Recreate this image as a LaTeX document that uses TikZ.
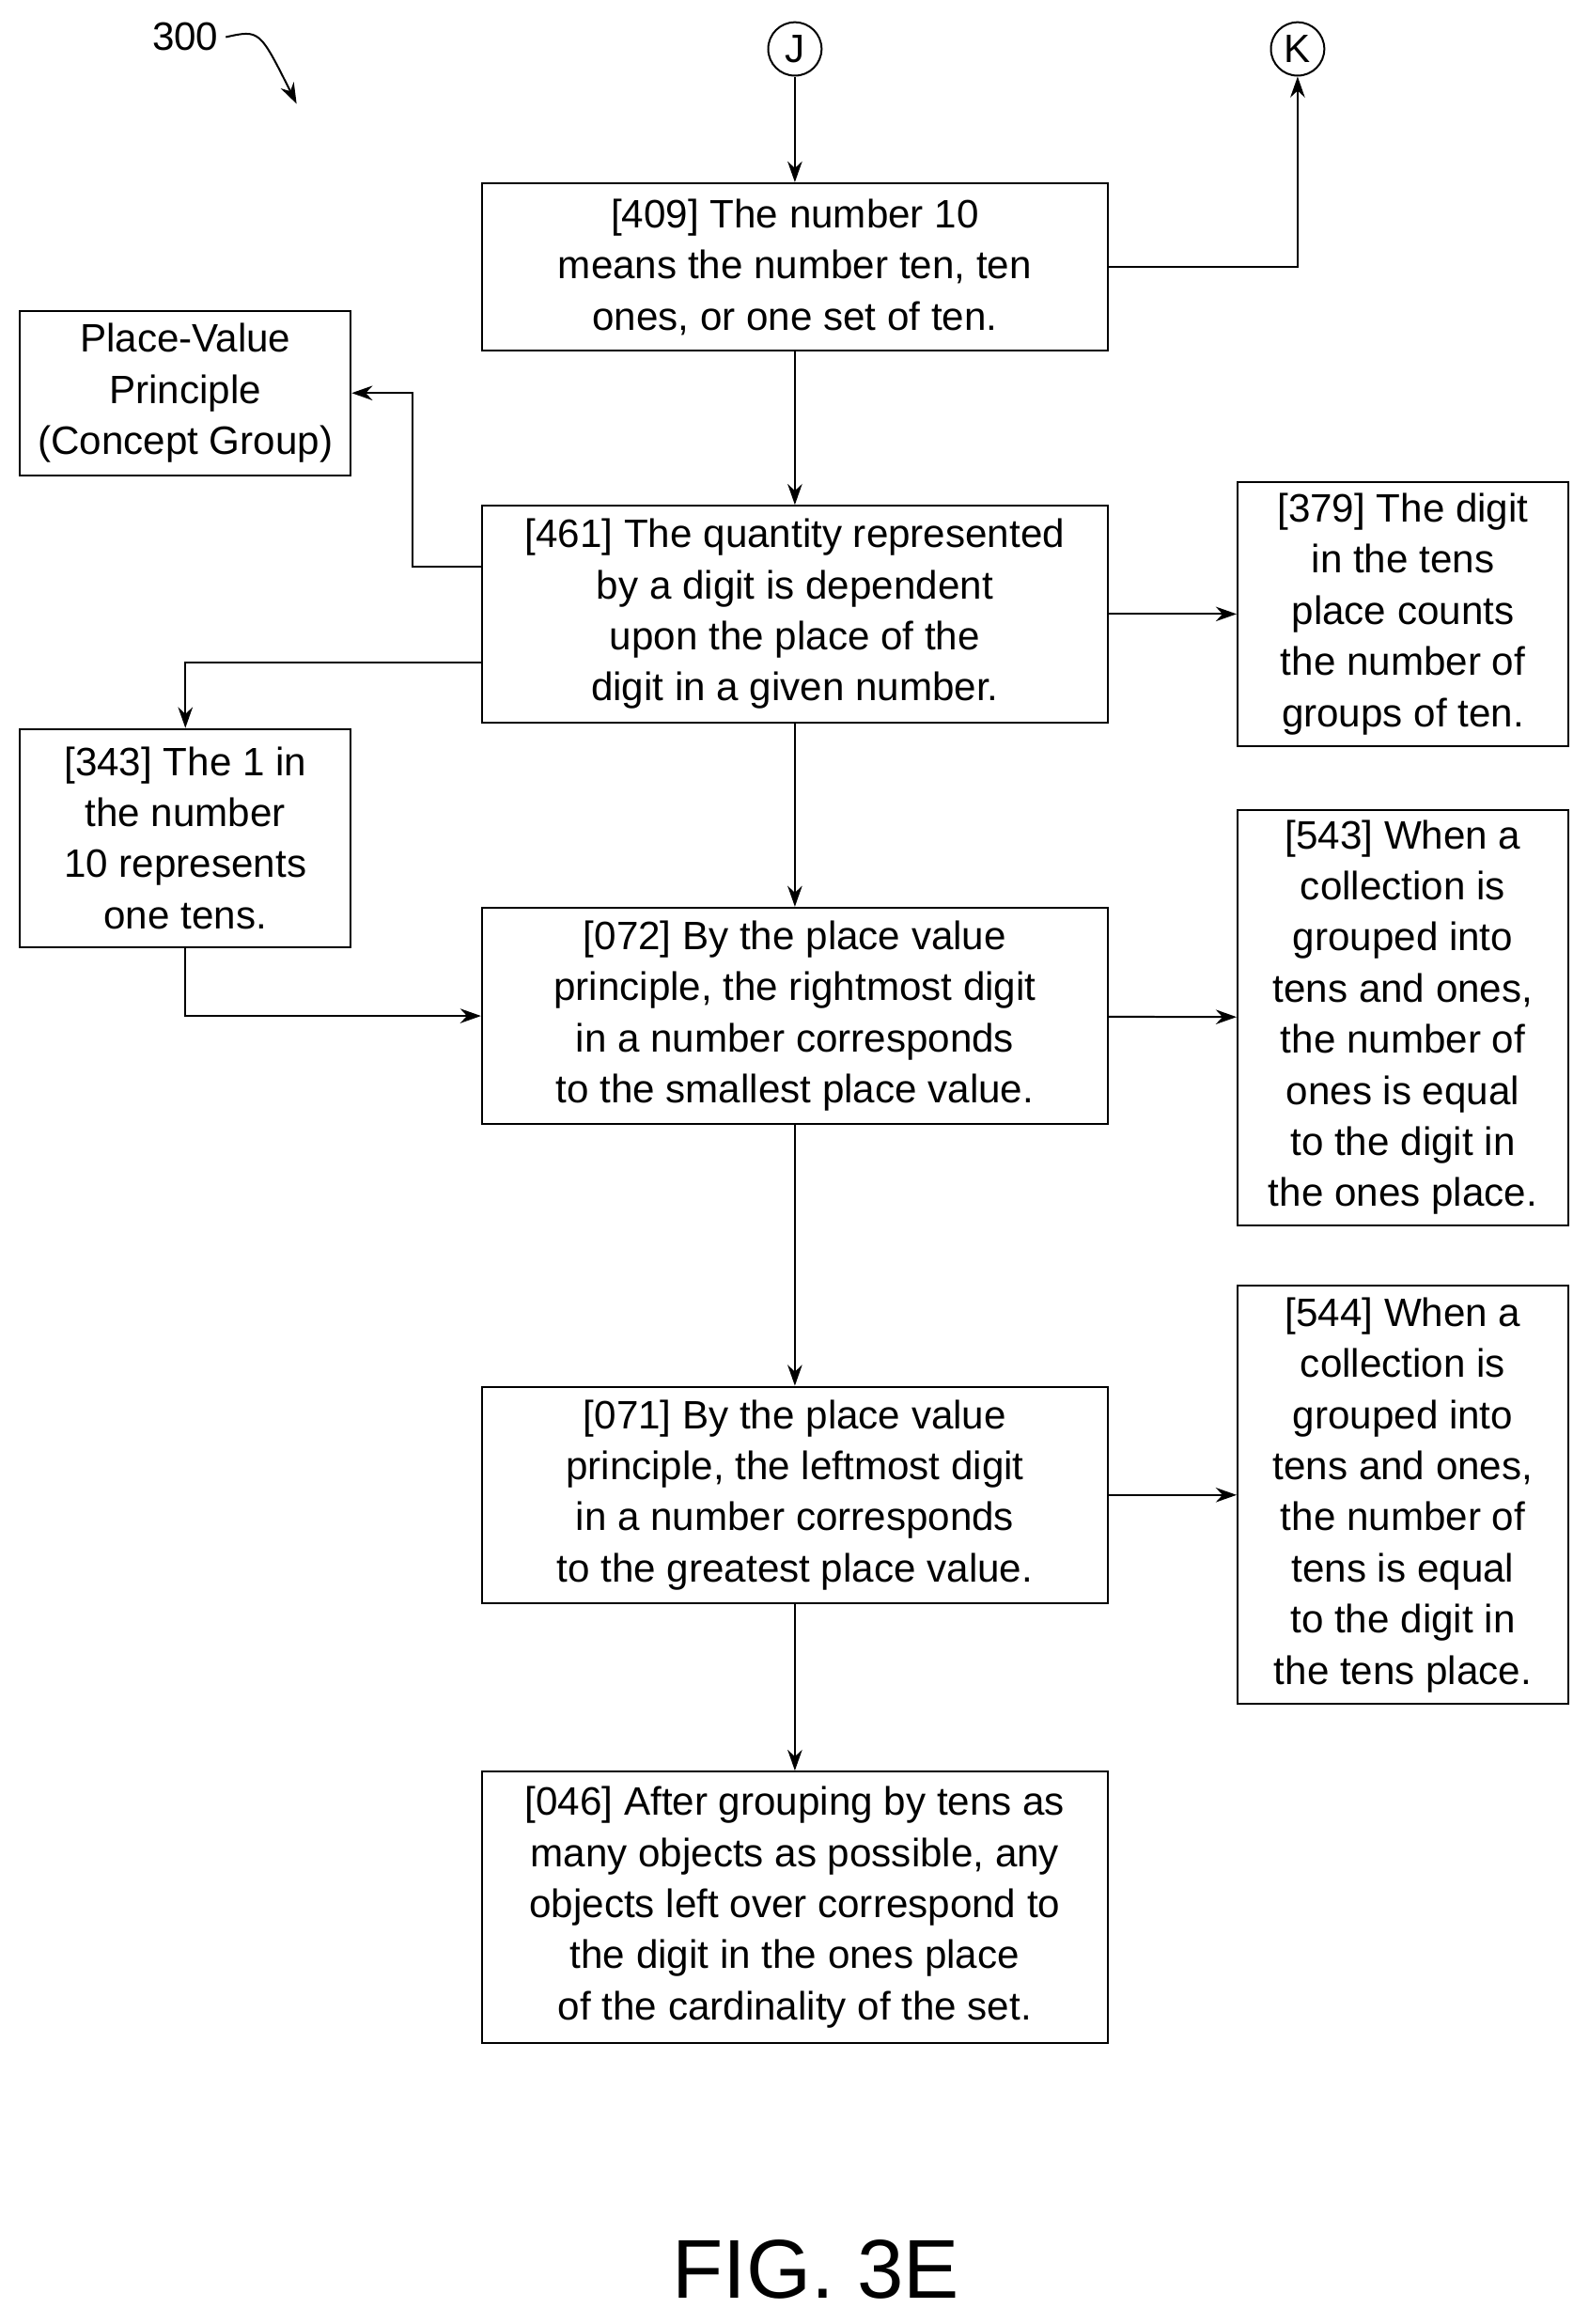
\documentclass[tikz,border=0pt]{standalone}
\usepackage{fontspec}
\setmainfont{Liberation Sans}
\usetikzlibrary{positioning, arrows.meta}

\begin{document}
\begin{tikzpicture}[x=0.025cm, y=-0.025cm,
    every node/.style={font=\fontsize{19}{24.5}\selectfont},
    step_box/.style={rectangle, draw, line width=0.9pt, align=center, inner sep=0pt},
    wide_box/.style={step_box, minimum width=422*0.025cm},
    side_box/.style={step_box, minimum width=223*0.025cm},
    connector/.style={circle, draw, line width=0.9pt, minimum size=0.9cm, inner sep=0pt},
    arrow_pointer/.style={-{Stealth[length=10pt, width=7pt]}, line width=0.9pt}]

    \useasboundingbox (0,0) rectangle (1071,1567);

    % Connectors
    \node[connector] (J) at (536,33) {J};
    \node[connector] (K) at (875,33) {K};

    % Main column
    \node[wide_box, minimum height=113*0.025cm] (b409) at (536,180)
        {[409] The number 10\\means the number ten, ten\\ones, or one set of ten.};
    \node[wide_box, minimum height=146*0.025cm] (b461) at (536,414)
        {[461] The quantity represented\\by a digit is dependent\\upon the place of the\\digit in a given number.};
    \node[wide_box, minimum height=146*0.025cm] (b072) at (536,685)
        {[072] By the place value\\principle, the rightmost digit\\in a number corresponds\\to the smallest place value.};
    \node[wide_box, minimum height=146*0.025cm] (b071) at (536,1008)
        {[071] By the place value\\principle, the leftmost digit\\in a number corresponds\\to the greatest place value.};
    \node[wide_box, minimum height=183*0.025cm] (b046) at (536,1286)
        {[046] After grouping by tens as\\many objects as possible, any\\objects left over correspond to\\the digit in the ones place\\of the cardinality of the set.};

    % Left column
    \node[side_box, minimum height=111*0.025cm] (pv) at (125,265)
        {Place-Value\\Principle\\(Concept Group)};
    \node[side_box, minimum height=147*0.025cm] (b343) at (125,565)
        {[343] The 1 in\\the number\\10 represents\\one tens.};

    % Right column
    \node[side_box, minimum height=178*0.025cm] (b379) at (946,414)
        {[379] The digit\\in the tens\\place counts\\the number of\\groups of ten.};
    \node[side_box, minimum height=280*0.025cm] (b543) at (946,686)
        {[543] When a\\collection is\\grouped into\\tens and ones,\\the number of\\ones is equal\\to the digit in\\the ones place.};
    \node[side_box, minimum height=282*0.025cm] (b544) at (946,1008)
        {[544] When a\\collection is\\grouped into\\tens and ones,\\the number of\\tens is equal\\to the digit in\\the tens place.};

    % Arrows
    \draw[arrow_pointer] (J) -- (b409);
    \draw[arrow_pointer] (b409.east) -| (K);
    \draw[arrow_pointer] (b409) -- (b461);
    \draw[arrow_pointer] (b461.west |- 0,382) -| (278,265) -- (pv.east |- 0,265);
    \draw[arrow_pointer] (b461.west |- 0,447) -| (b343.north);
    \draw[arrow_pointer] (b461) -- (b379);
    \draw[arrow_pointer] (b461) -- (b072);
    \draw[arrow_pointer] (b343.south) |- (b072.west);
    \draw[arrow_pointer] (b072) -- (b543);
    \draw[arrow_pointer] (b072) -- (b071);
    \draw[arrow_pointer] (b071) -- (b544);
    \draw[arrow_pointer] (b071) -- (b046);

    % Figure label
    \node (ref) at (125,25) {300};
    \draw[-{Stealth[length=10pt, width=7pt]}, line width=0.9pt] (ref.east) .. controls (175,20) .. (200,70);
    \node[font=\fontsize{40}{44}\selectfont] (fig) at (550,1530) {FIG. 3E};
\end{tikzpicture}
\end{document}
